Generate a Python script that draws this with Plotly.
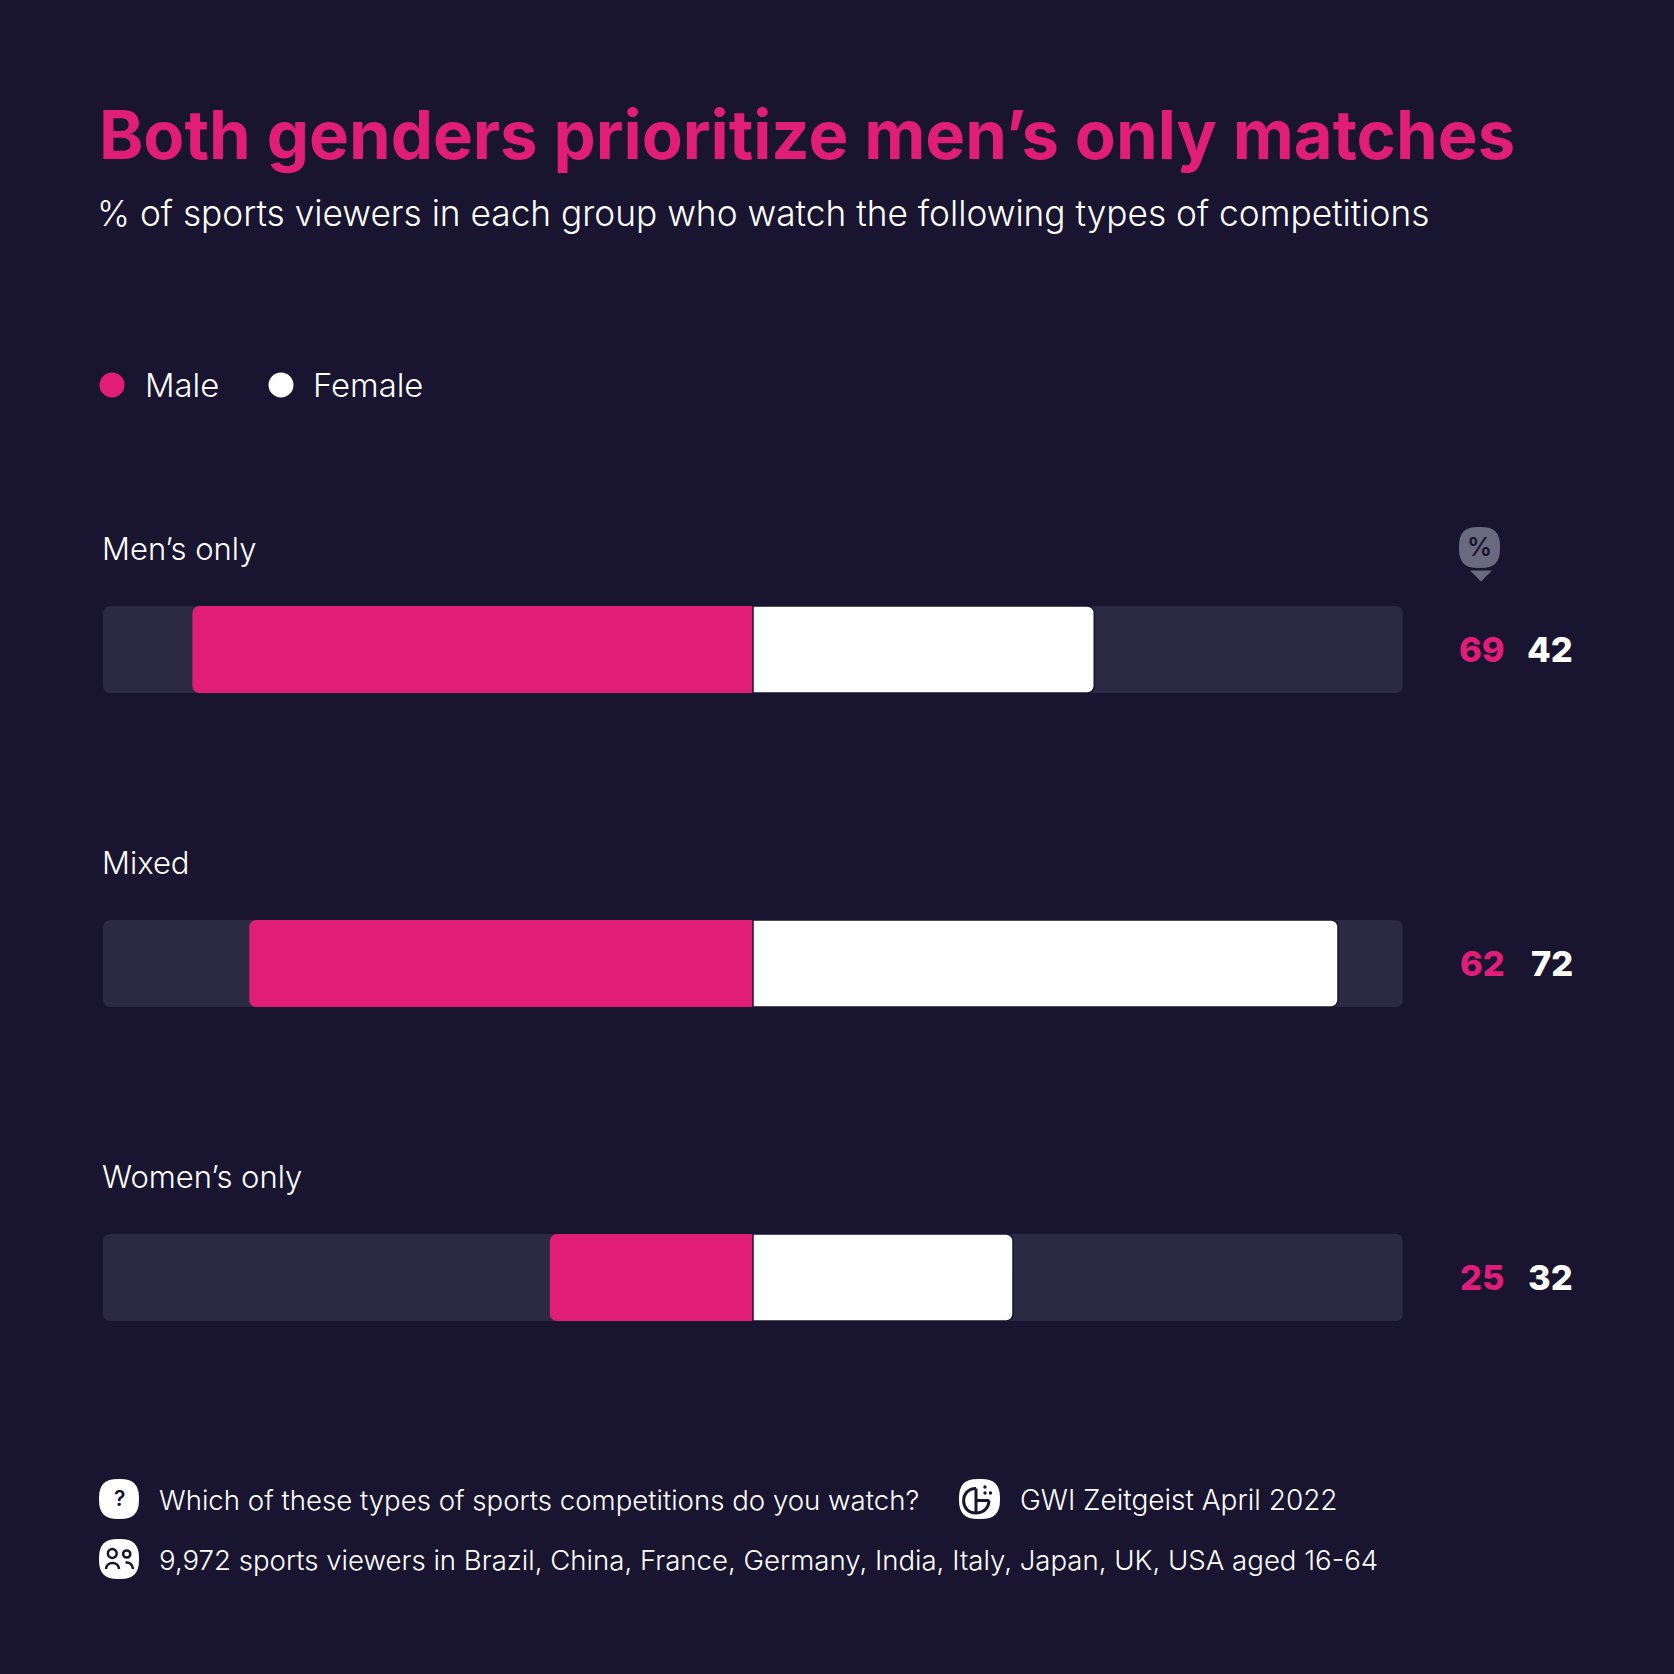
import plotly.graph_objects as go

categories = ["Men’s only", "Mixed", "Women’s only"]
male = [69, 62, 25]
female = [42, 72, 32]
track_max = 80

W = H = 1674
BG = "#191530"
PINK = "#E01D78"
TRACK = "#2B2944"
WHITE = "#FFFFFF"
PIN = "#6A6980"
FONT = "Inter"

def px(x): return x / W
def py(y): return 1 - y / H

fig = go.Figure()
fig.add_trace(go.Bar(y=categories, x=[-track_max] * 3, orientation="h", marker=dict(color=TRACK, cornerradius=7, line=dict(width=0)), showlegend=False, hoverinfo="skip"))
fig.add_trace(go.Bar(y=categories, x=[track_max] * 3, orientation="h", marker=dict(color=TRACK, cornerradius=7, line=dict(width=0)), showlegend=False, hoverinfo="skip"))
fig.add_trace(go.Bar(y=categories, x=[-v for v in male], orientation="h", name="Male", xaxis="x2", yaxis="y2", marker=dict(color=PINK, cornerradius=7, line=dict(width=0)), showlegend=False))
fig.add_trace(go.Bar(y=categories, x=female, orientation="h", name="Female", xaxis="x2", yaxis="y2", marker=dict(color=WHITE, cornerradius=7, line=dict(width=1.5, color=BG)), showlegend=False))

annots = []
def text(x, y, s, size, color=WHITE, weight=400, anchor="left"):
    annots.append(dict(xref="paper", yref="paper", x=px(x), y=py(y), text=s, showarrow=False,
                       xanchor=anchor, yanchor="middle", align=anchor,
                       font=dict(family=FONT, size=size, color=color, weight=weight)))

text(97, 134.4, "Both genders prioritize men’s only matches", 67, PINK, 700)
text(94.5, 213, "% of sports viewers in each group who watch the following types of competitions", 35.25, WHITE, 300)
text(142.5, 385, "Male", 32.8, WHITE, 300)
text(311, 385, "Female", 32.8, WHITE, 300)

for i, c in enumerate(categories):
    annots.append(dict(xref="paper", yref="y", x=px(100), y=c, yshift=101, text=c, showarrow=False, xanchor="left", yanchor="middle",
                       font=dict(family=FONT, size=31, color=WHITE, weight=300)))
    annots.append(dict(xref="paper", yref="y", x=px(1482), y=c, text=str(male[i]), showarrow=False, xanchor="center", yanchor="middle",
                       font=dict(family=FONT, size=34.5, color=PINK, weight=800)))
    annots.append(dict(xref="paper", yref="y", x=px(1575), y=c, text=str(female[i]), showarrow=False, xanchor="right", yanchor="middle",
                       font=dict(family=FONT, size=34.5, color=WHITE, weight=800)))

text(157, 1500, "Which of these types of sports competitions do you watch?", 27.6, WHITE, 300)
text(1018, 1500, "GWI Zeitgeist April 2022", 28, WHITE, 300)
text(157, 1560, "9,972 sports viewers in Brazil, China, France, Germany, India, Italy, Japan, UK, USA aged 16-64", 27.6, WHITE, 300)
text(119.5, 1498, "?", 21, BG, 600, "center")
text(1479.5, 547, "%", 25, BG, 600, "center")

shapes = []
def squircle(x0, y0, x1, y1, color, r=19):
    k = r * 0.3
    P = lambda a, b: f"{px(a):.6f},{py(b):.6f}"
    d = (f"M{P(x0+r,y0)} L{P(x1-r,y0)} C{P(x1-k,y0)} {P(x1,y0+k)} {P(x1,y0+r)} L{P(x1,y1-r)} "
         f"C{P(x1,y1-k)} {P(x1-k,y1)} {P(x1-r,y1)} L{P(x0+r,y1)} C{P(x0+k,y1)} {P(x0,y1-k)} {P(x0,y1-r)} "
         f"L{P(x0,y0+r)} C{P(x0,y0+k)} {P(x0+k,y0)} {P(x0+r,y0)} Z")
    shapes.append(dict(type="path", xref="paper", yref="paper", path=d, fillcolor=color, line=dict(width=0)))

def circle(cx, cy, r, fill=None, line=None, lw=0):
    shapes.append(dict(type="circle", xref="paper", yref="paper", x0=px(cx-r), x1=px(cx+r), y0=py(cy+r), y1=py(cy-r),
                       fillcolor=fill or "rgba(0,0,0,0)", line=dict(width=lw, color=line or "rgba(0,0,0,0)")))

def polyline(pts, color=BG, lw=2.5, fill=None, close=False):
    d = "M" + " L".join(f"{px(a):.6f},{py(b):.6f}" for a, b in pts) + (" Z" if close else "")
    shapes.append(dict(type="path", xref="paper", yref="paper", path=d, fillcolor=fill or "rgba(0,0,0,0)", line=dict(width=lw, color=color)))

def curve(p0, c1, c2, p1, color=BG, lw=2.5):
    P = lambda p: f"{px(p[0]):.6f},{py(p[1]):.6f}"
    shapes.append(dict(type="path", xref="paper", yref="paper", path=f"M{P(p0)} C{P(c1)} {P(c2)} {P(p1)}", line=dict(width=lw, color=color)))

# legend dots
circle(112, 385, 12.5, PINK)
circle(281, 385, 12.5, WHITE)

# percent pin
squircle(1459, 527, 1500, 568, PIN)
polyline([(1470, 570.5), (1492, 570.5), (1481, 581.5)], PIN, 0, PIN, True)

# footer icons
squircle(99, 1479, 139, 1519, WHITE)
squircle(99, 1539, 139, 1579, WHITE)
squircle(959, 1479, 1000, 1519, WHITE)

# people icon
circle(112.3, 1553.5, 4.4, None, BG, 2.5)
circle(126.7, 1554, 3.6, None, BG, 2.5)
curve((106, 1569), (106.5, 1561), (118.5, 1561), (119, 1569), BG, 2.5)
curve((125.5, 1562.5), (129.5, 1562), (132.5, 1564), (133, 1569), BG, 2.5)

# GWI logo
curve((976, 1488.5), (959.5, 1488.5), (959.5, 1513), (976, 1513), BG, 3)
polyline([(976, 1488.5), (976, 1513)], BG, 3)
polyline([(976, 1500.5), (989, 1500.5)], BG, 3)
curve((989, 1500.5), (989, 1508), (983, 1513), (976, 1513), BG, 3)
circle(985, 1487, 1.7, BG)
circle(985, 1493, 1.7, BG)
circle(990.5, 1493, 1.7, BG)

dom_x = [px(103), px(1403)]
dom_y = [py(1434.5), py(492.5)]
x_common = dict(domain=dom_x, range=[-track_max, track_max], visible=False, fixedrange=True)
y_common = dict(domain=dom_y, autorange=False, range=[2.5, -0.5], type="category",
                categoryorder="array", categoryarray=categories, visible=False, fixedrange=True)

fig.update_layout(
    width=W, height=H, margin=dict(l=0, r=0, t=0, b=0, pad=0), autosize=False,
    paper_bgcolor=BG, plot_bgcolor=BG, barmode="overlay", bargap=1 - 87 / 314,
    showlegend=False, annotations=annots, shapes=shapes,
    xaxis=x_common, yaxis=y_common,
    xaxis2=dict(**x_common, overlaying="x", anchor="y2"),
    yaxis2=dict(**y_common, overlaying="y", anchor="x2"),
    font=dict(family=FONT, color=WHITE),
)
fig.write_html("out.html", config=dict(displayModeBar=False), post_script="document.body.style.margin='0';")
